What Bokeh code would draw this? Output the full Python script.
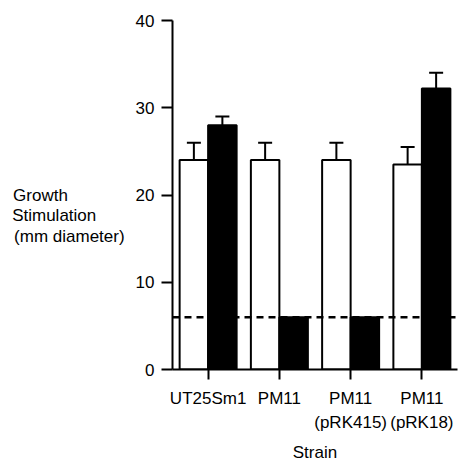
from bokeh.plotting import figure
from bokeh.models import ColumnDataSource, FactorRange, Range1d, Span, Whisker, TeeHead, FixedTicker
from bokeh.transform import dodge
from bokeh.embed import file_html
from bokeh.resources import INLINE

# ---- data ----
strains = ["UT25Sm1", "PM11", "PM11\n(pRK415)", "PM11\n(pRK18)"]
white_vals = [24.0, 24.0, 24.0, 23.5]
white_err = [2.0, 2.0, 2.0, 2.0]
black_vals = [28.0, 6.0, 6.0, 32.2]
black_err = [1.0, 0.0, 0.0, 1.8]
baseline = 6.0
y_ticks = [0, 10, 20, 30, 40]
y_label_lines = ["Growth", "Stimulation", "(mm diameter)"]
x_label = "Strain"

FONT = "Liberation Sans"
FS = "17px"

p = figure(width=463, height=465, x_range=FactorRange(factors=strains),
           y_range=Range1d(0, 40), output_backend="svg", toolbar_location=None,
           min_border_left=172, min_border_right=6, min_border_top=20, min_border_bottom=95)
p.background_fill_color = "white"
p.border_fill_color = "white"
p.outline_line_color = None
p.xgrid.visible = False
p.ygrid.visible = False

src_w = ColumnDataSource(dict(strain=strains, val=white_vals,
                              upper=[v + e for v, e in zip(white_vals, white_err)]))
src_b = ColumnDataSource(dict(strain=strains, val=black_vals))
keep = [i for i, e in enumerate(black_err) if e > 0]
src_be = ColumnDataSource(dict(strain=[strains[i] for i in keep],
                               val=[black_vals[i] for i in keep],
                               upper=[black_vals[i] + black_err[i] for i in keep]))

p.vbar(x=dodge("strain", -0.2, range=p.x_range), top="val", bottom=0, width=0.4,
       source=src_w, fill_color="white", line_color="black", line_width=2)
p.vbar(x=dodge("strain", 0.2, range=p.x_range), top="val", bottom=0, width=0.4,
       source=src_b, fill_color="black", line_color="black", line_width=2)

for src, off in ((src_w, -0.2), (src_be, 0.2)):
    w = Whisker(source=src, base=dodge("strain", off, range=p.x_range), upper="upper", lower="val",
                dimension="height", line_color="black", line_width=2,
                upper_head=TeeHead(size=14, line_width=2, line_color="black"), lower_head=None)
    p.add_layout(w)

p.add_layout(Span(location=baseline, dimension="width", line_color="black",
                  line_width=2.5, line_dash="7 5"))

# axes
for ax in (p.xaxis[0], p.yaxis[0]):
    ax.axis_line_width = 2
    ax.axis_line_color = "black"
    ax.major_tick_line_width = 2
    ax.major_tick_line_color = "black"
    ax.major_tick_in = 0
    ax.minor_tick_line_color = None
    ax.major_label_text_font = FONT
    ax.major_label_text_font_size = FS
    ax.major_label_text_color = "black"
    ax.axis_label_text_font = FONT
    ax.axis_label_text_font_size = FS
    ax.axis_label_text_font_style = "normal"
    ax.axis_label_text_color = "black"

p.yaxis.ticker = FixedTicker(ticks=y_ticks)
p.yaxis.major_tick_out = 11
p.yaxis.major_label_standoff = 7

# horizontal, left-aligned multi-line y label (padded with no-break spaces)
NB = "\u00a0"
pads = [12, 6, 0]
p.yaxis.axis_label = "\n\n" + "\n".join(t + NB * n for t, n in zip(y_label_lines, pads))
p.yaxis.axis_label_orientation = "horizontal"
p.yaxis.axis_label_text_line_height = 1.1
p.yaxis.axis_label_standoff = 8

p.xaxis.major_tick_out = 10
p.xaxis.major_label_standoff = 9
p.xaxis.major_label_text_line_height = 1.3
p.xaxis.axis_label = x_label
p.xaxis.axis_label_standoff = 8

open("out.html", "w").write(file_html(p, INLINE))
